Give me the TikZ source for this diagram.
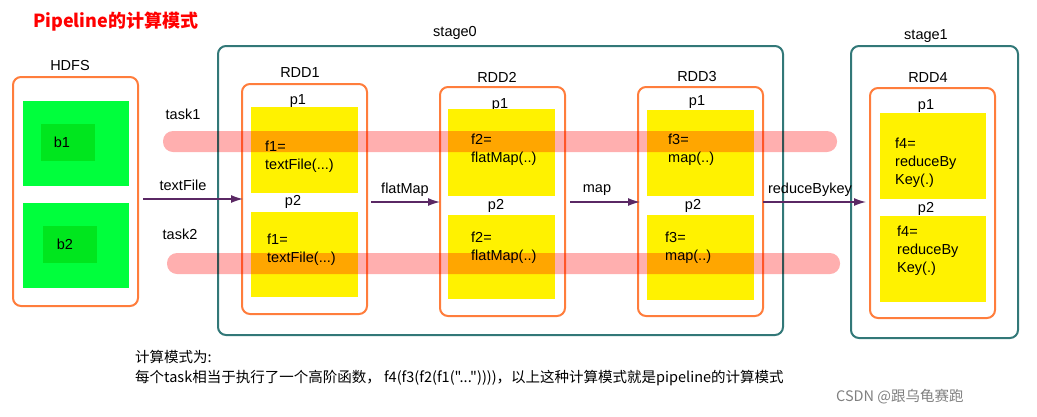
\documentclass[tikz,border=0pt]{standalone}
\usepackage{fontspec}
\setmainfont{Liberation Sans}
\newfontfamily\cjk{Noto Sans CJK SC}
\usetikzlibrary{arrows.meta}
\definecolor{gA}{RGB}{0,255,60}
\definecolor{gB}{RGB}{0,230,30}
\definecolor{orl}{RGB}{255,125,60}
\definecolor{stl}{RGB}{50,120,120}
\definecolor{pnk}{RGB}{255,175,175}
\definecolor{pur}{RGB}{90,40,100}
\begin{document}
\begin{tikzpicture}[x=1pt,y=-1pt,
  lbl/.style={font=\fontsize{14.5}{16}\selectfont,inner sep=0},
  orbox/.style={draw=orl,line width=2pt,rounded corners=8pt},
  stbox/.style={draw=stl,line width=2pt,rounded corners=8pt},
  ybox/.style={fill=yellow,draw=none},
  ytxt/.style={font=\fontsize{14.5}{18}\selectfont,align=left,anchor=west,inner sep=0},
  bar/.style={fill=pnk,blend mode=multiply,rounded corners=10pt},
  arr/.style={draw=pur,line width=1.3pt,-{Latex[length=12pt,width=8pt]}}]
\useasboundingbox (0,0) rectangle (1037,416);
\node[text=red,font=\cjk\bfseries\fontsize{18}{20}\selectfont,anchor=west,inner sep=0] (title) at (33,22) {Pipeline的计算模式};
% HDFS
\node[lbl] (hdfsl) at (70,66) {HDFS};
\draw[orbox] (13,77) rectangle (138,306);
\fill[gA] (23,101) rectangle (129,186);
\fill[gB] (41,124) rectangle (95,161);
\node[lbl] (b1) at (62,142) {b1};
\fill[gA] (23,203) rectangle (129,288);
\fill[gB] (43,226) rectangle (97,263);
\node[lbl] (b2) at (65,244) {b2};
% stages
\draw[stbox] (218,46) rectangle (783,335);
\node[lbl] (s0) at (455,33) {stage0};
\draw[stbox] (851,46) rectangle (1018,338);
\node[lbl] (s1) at (926,36) {stage1};
% RDD1
\node[lbl] at (300,73) {RDD1};
\draw[orbox] (242,84) rectangle (367,314);
\node[lbl] at (298,101) {p1};
\fill[ybox] (251,107) rectangle (358,193);
\node[ytxt] at (265,157) {f1=\\textFile(...)};
\node[lbl] at (293,202) {p2};
\fill[ybox] (251,212) rectangle (358,297);
\node[ytxt] at (267,250) {f1=\\textFile(...)};
% RDD2
\node[lbl] at (497,77) {RDD2};
\draw[orbox] (440,87) rectangle (565,316);
\node[lbl] at (500,105) {p1};
\fill[ybox] (448,109) rectangle (555,196);
\node[ytxt] at (471,150) {f2=\\flatMap(..)};
\node[lbl] at (496,206) {p2};
\fill[ybox] (448,215) rectangle (555,299);
\node[ytxt] at (471,248) {f2=\\flatMap(..)};
% RDD3
\node[lbl] at (697,77) {RDD3};
\draw[orbox] (638,87) rectangle (763,316);
\node[lbl] at (697,102) {p1};
\fill[ybox] (647,110) rectangle (754,196);
\node[ytxt] at (668,150) {f3=\\map(..)};
\node[lbl] at (693,206) {p2};
\fill[ybox] (647,215) rectangle (754,300);
\node[ytxt] at (665,248) {f3=\\map(..)};
% RDD4
\node[lbl] at (928,78) {RDD4};
\draw[orbox] (870,88) rectangle (995,318);
\node[lbl] at (926,106) {p1};
\fill[ybox] (880,113) rectangle (986,199);
\node[ytxt] at (895,163) {f4=\\reduceBy\\Key(.)};
\node[lbl] at (926,209) {p2};
\fill[ybox] (880,216) rectangle (986,302);
\node[ytxt] at (897,251) {f4=\\reduceBy\\Key(.)};
% bars
\fill[bar] (163,131) rectangle (837,152);
\fill[bar] (167,253) rectangle (840,274);
\node[lbl] (t1) at (183,114) {task1};
\node[lbl] (t2) at (180,234) {task2};
% arrows
\coordinate (a0) at (143,199); \coordinate (a1) at (243,199);
\coordinate (c0) at (371,202); \coordinate (c1) at (440,202);
\coordinate (d0) at (570,202); \coordinate (d1) at (640,202);
\coordinate (e0) at (763,202); \coordinate (e1) at (866,202);
\draw[arr] (a0) -- (a1);
\draw[arr] (c0) -- (c1);
\draw[arr] (d0) -- (d1);
\draw[arr] (e0) -- (e1);
\node[lbl] at (183,185) {textFile};
\node[lbl] at (405,190) {flatMap};
\node[lbl] at (597,190) {map};
\node[lbl] at (810,190) {reduceBykey};
% bottom text
\node[font=\cjk\fontsize{14.5}{16}\selectfont,anchor=west,inner sep=0] at (135,357) {计算模式为:};
\node[font=\cjk\fontsize{14.5}{16}\selectfont,anchor=west,inner sep=0] at (135,378) {每个task相当于执行了一个高阶函数，  f4(f3(f2(f1("..."))))，以上这种计算模式就是pipeline的计算模式};
\node[font=\cjk\fontsize{14.5}{16}\selectfont,anchor=west,inner sep=0,text=gray] at (836,397) {CSDN @跟乌龟赛跑};
\end{tikzpicture}
\end{document}
